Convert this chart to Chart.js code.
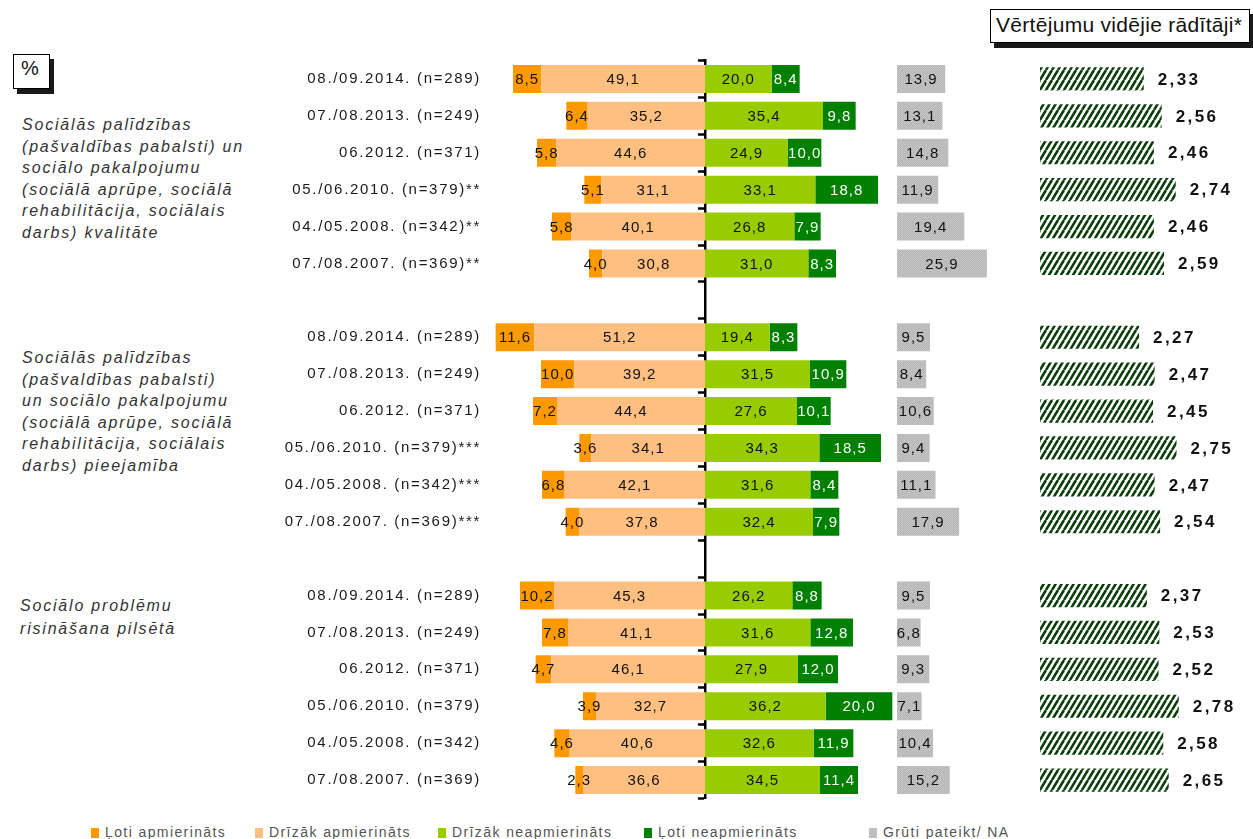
<!DOCTYPE html>
<html lang="lv">
<head>
<meta charset="utf-8">
<title>Sociālie pakalpojumi – vērtējumi</title>
<script src="https://cdn.jsdelivr.net/npm/chart.js@4/dist/chart.umd.min.js"></script>
<style>
  html, body { margin: 0; padding: 0; background: #fff; }
  body { width: 1253px; height: 839px; position: relative; overflow: hidden;
         font-family: "Liberation Sans", Arial, sans-serif; }
  canvas { position: absolute; }
  .frame { position: absolute; box-sizing: border-box; background: #fff;
           border: 1.5px solid #000; box-shadow: 4px 5px 0 #1a1a1a; color: #111; }
  .topic { position: absolute; left: 22px; font-style: italic; font-size: 16px;
           letter-spacing: 1.8px; color: #333; white-space: nowrap; line-height: 21.6px; }
  .legend { position: absolute; top: 824px; font-size: 14px; letter-spacing: 1.4px;
            color: #555; white-space: nowrap; }
  .legend i { display: inline-block; width: 8px; height: 10px; margin-right: 6px;
              vertical-align: -1px; }
</style>
</head>
<body>

<div class="frame" style="left:13px;top:54px;width:37px;height:35px;font-size:20px;padding:2px 0 0 7px;">%</div>
<div class="frame" style="left:990px;top:9px;width:260px;height:34px;font-size:21px;letter-spacing:0.3px;padding:3px 0 0 5px;">Vērtējumu vidējie rādītāji*</div>

<div class="topic" style="top:114px;">Sociālās palīdzības<br>(pašvaldības pabalsti) un<br>sociālo pakalpojumu<br>(sociālā aprūpe, sociālā<br>rehabilitācija, sociālais<br>darbs) kvalitāte</div>
<div class="topic" style="top:347px;">Sociālās palīdzības<br>(pašvaldības pabalsti)<br>un sociālo pakalpojumu<br>(sociālā aprūpe, sociālā<br>rehabilitācija, sociālais<br>darbs) pieejamība</div>
<div class="topic" style="top:594px;left:20px;line-height:23px;">Sociālo problēmu<br>risināšana pilsētā</div>

<canvas id="split" width="625" height="760" style="left:270px;top:50px;"></canvas>
<canvas id="na" width="110" height="760" style="left:897px;top:50px;"></canvas>
<canvas id="mean" width="213" height="760" style="left:1040px;top:50px;"></canvas>

<div class="legend" style="left:91px;"><i style="background:#FF9900"></i>Ļoti apmierināts</div>
<div class="legend" style="left:255px;"><i style="background:#FFBF80"></i>Drīzāk apmierināts</div>
<div class="legend" style="left:438px;"><i style="background:#99CC00"></i>Drīzāk neapmierināts</div>
<div class="legend" style="left:644px;"><i style="background:#008000"></i>Ļoti neapmierināts</div>
<div class="legend" style="left:869px;"><i style="background:#C0C0C0"></i>Grūti pateikt/ NA</div>

<script>
// survey waves, three question blocks; '' rows are spacers between blocks
const rowLabels = [
  '08./09.2014. (n=289)', '07./08.2013. (n=249)', '06.2012. (n=371)',
  '05./06.2010. (n=379)**', '04./05.2008. (n=342)**', '07./08.2007. (n=369)**',
  '',
  '08./09.2014. (n=289)', '07./08.2013. (n=249)', '06.2012. (n=371)',
  '05./06.2010. (n=379)***', '04./05.2008. (n=342)***', '07./08.2007. (n=369)***',
  '',
  '08./09.2014. (n=289)', '07./08.2013. (n=249)', '06.2012. (n=371)',
  '05./06.2010. (n=379)', '04./05.2008. (n=342)', '07./08.2007. (n=369)'
];

// shares, %
const verySatisfied      = [8.5, 6.4, 5.8, 5.1, 5.8, 4.0, null, 11.6, 10.0, 7.2, 3.6, 6.8, 4.0, null, 10.2, 7.8, 4.7, 3.9, 4.6, 2.3];
const ratherSatisfied    = [49.1, 35.2, 44.6, 31.1, 40.1, 30.8, null, 51.2, 39.2, 44.4, 34.1, 42.1, 37.8, null, 45.3, 41.1, 46.1, 32.7, 40.6, 36.6];
const ratherDissatisfied = [20.0, 35.4, 24.9, 33.1, 26.8, 31.0, null, 19.4, 31.5, 27.6, 34.3, 31.6, 32.4, null, 26.2, 31.6, 27.9, 36.2, 32.6, 34.5];
const veryDissatisfied   = [8.4, 9.8, 10.0, 18.8, 7.9, 8.3, null, 8.3, 10.9, 10.1, 18.5, 8.4, 7.9, null, 8.8, 12.8, 12.0, 20.0, 11.9, 11.4];
const hardToSay          = [13.9, 13.1, 14.8, 11.9, 19.4, 25.9, null, 9.5, 8.4, 10.6, 9.4, 11.1, 17.9, null, 9.5, 6.8, 9.3, 7.1, 10.4, 15.2];

// average scores
const meanScores = [2.33, 2.56, 2.46, 2.74, 2.46, 2.59, null, 2.27, 2.47, 2.45, 2.75, 2.47, 2.54, null, 2.37, 2.53, 2.52, 2.78, 2.58, 2.65];

const neg = arr => arr.map(v => v == null ? null : -v);
const pad = { top: 10.5, bottom: 11.5, left: 0, right: 0 };

// canvas letter spacing for everything drawn by a chart
const spacing = {
  id: 'spacing',
  beforeDraw(chart, args, opts) { chart.ctx.letterSpacing = opts.value || '0px'; }
};

// numbers on / next to the bars, comma decimals
const valueLabels = {
  id: 'valueLabels',
  afterDatasetsDraw(chart, args, opts) {
    const ctx = chart.ctx;
    ctx.save();
    ctx.font = opts.font;
    ctx.letterSpacing = opts.spacing || '0px';
    ctx.textBaseline = 'middle';
    ctx.textAlign = opts.outside ? 'left' : 'center';
    chart.data.datasets.forEach((ds, i) => {
      chart.getDatasetMeta(i).data.forEach((bar, j) => {
        const v = ds.data[j];
        if (v == null) return;
        const txt = Math.abs(v).toFixed(opts.digits).replace('.', ',');
        const x = opts.outside ? bar.x + opts.offset : (bar.x + bar.base) / 2;
        ctx.fillStyle = ds.labelColor || '#111';
        ctx.fillText(txt, x, bar.y + 1);
      });
    });
    ctx.restore();
  }
};

function ditherGray() {
  const c = document.createElement('canvas');
  c.width = 2; c.height = 2;
  const g = c.getContext('2d');
  g.fillStyle = '#C4C4C4'; g.fillRect(0, 0, 2, 2);
  g.fillStyle = '#B6B6B6'; g.fillRect(0, 0, 1, 1); g.fillRect(1, 1, 1, 1);
  return g.createPattern(c, 'repeat');
}

function hatch() {
  const c = document.createElement('canvas');
  c.width = 6; c.height = 10;
  const g = c.getContext('2d');
  g.fillStyle = '#fff'; g.fillRect(0, 0, 6, 10);
  g.strokeStyle = '#0B3D0B'; g.lineWidth = 2.6;
  for (const dx of [-6, 0, 6]) {
    g.beginPath(); g.moveTo(dx, 10); g.lineTo(dx + 6, 0); g.stroke();
  }
  return g.createPattern(c, 'repeat');
}

const catAxis = { type: 'category', stacked: true, display: false, offset: true };
const barOpts = { barPercentage: 0.76, categoryPercentage: 1 };

// satisfied (left) vs dissatisfied (right) around zero
new Chart(document.getElementById('split'), {
  type: 'bar',
  data: {
    labels: rowLabels,
    datasets: [
      { label: 'Drīzāk apmierināts', data: neg(ratherSatisfied), backgroundColor: '#FFBF80', xAxisID: 'x', yAxisID: 'y' },
      { label: 'Ļoti apmierināts', data: neg(verySatisfied), backgroundColor: '#FF9900', xAxisID: 'x', yAxisID: 'y' },
      { label: 'Drīzāk neapmierināts', data: ratherDissatisfied, backgroundColor: '#99CC00', xAxisID: 'x', yAxisID: 'y' },
      { label: 'Ļoti neapmierināts', data: veryDissatisfied, backgroundColor: '#008000', labelColor: '#fff', xAxisID: 'x', yAxisID: 'y' }
    ]
  },
  options: {
    indexAxis: 'y',
    responsive: false,
    animation: false,
    layout: { padding: pad },
    datasets: { bar: barOpts },
    plugins: {
      legend: { display: false },
      tooltip: { enabled: false },
      spacing: { value: '1.7px' },
      valueLabels: { font: '15px "Liberation Sans", Arial, sans-serif', spacing: '1px', digits: 1 }
    },
    scales: {
      x: { stacked: true, display: false, min: -64.5, max: 57 },
      y: {
        type: 'category', stacked: true, offset: true, position: { x: 0 }, z: 1,
        ticks: { display: false },
        grid: { drawOnChartArea: false, offset: true, tickLength: 6, tickWidth: 2.5, tickColor: '#000' },
        border: { color: '#000', width: 2.5 }
      },
      yl: {
        type: 'category', labels: rowLabels, position: 'left', offset: true,
        grid: { display: false, drawTicks: false }, border: { display: false },
        ticks: { color: '#1a1a1a', padding: 9, font: { family: '"Liberation Sans", Arial, sans-serif', size: 15 } },
        afterFit(scale) {
          scale.width = 220;
          scale.paddingTop = 0;
          scale.paddingBottom = 0;
        }
      }
    }
  },
  plugins: [spacing, valueLabels]
});

// "hard to say / no answer"
new Chart(document.getElementById('na'), {
  type: 'bar',
  data: {
    labels: rowLabels,
    datasets: [{ label: 'Grūti pateikt/ NA', data: hardToSay, backgroundColor: ditherGray() }]
  },
  options: {
    indexAxis: 'y',
    responsive: false,
    animation: false,
    layout: { padding: pad },
    datasets: { bar: barOpts },
    plugins: {
      legend: { display: false },
      tooltip: { enabled: false },
      valueLabels: { font: '15px "Liberation Sans", Arial, sans-serif', spacing: '1px', digits: 1 }
    },
    scales: {
      x: { display: false, min: 0, max: 31.7 },
      y: catAxis
    }
  },
  plugins: [valueLabels]
});

// mean scores, axis starts at 1
new Chart(document.getElementById('mean'), {
  type: 'bar',
  data: {
    labels: rowLabels,
    datasets: [{ label: 'Vidējais', data: meanScores, backgroundColor: hatch() }]
  },
  options: {
    indexAxis: 'y',
    responsive: false,
    animation: false,
    layout: { padding: pad },
    datasets: { bar: { barPercentage: 0.63, categoryPercentage: 1 } },
    plugins: {
      legend: { display: false },
      tooltip: { enabled: false },
      valueLabels: { font: 'bold 17px "Liberation Sans", Arial, sans-serif', spacing: '2.4px', digits: 2, outside: true, offset: 14 }
    },
    scales: {
      x: { display: false, min: 1, max: 1 + 213 / 78 },
      y: catAxis
    }
  },
  plugins: [valueLabels]
});
</script>
</body>
</html>
